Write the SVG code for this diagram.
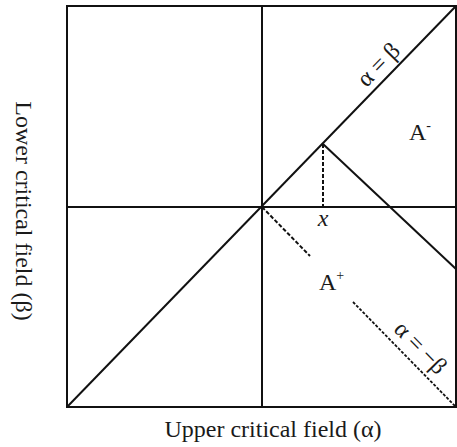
<svg xmlns="http://www.w3.org/2000/svg" width="457" height="447" viewBox="0 0 457 447">
<style>
.ln{stroke:#111;stroke-width:2;fill:none}
.dash{stroke:#111;stroke-width:2;fill:none;stroke-dasharray:4 2}
.dash2{stroke:#111;stroke-width:1.8;fill:none;stroke-dasharray:3 1.6}
text{font-family:"Liberation Serif","Times New Roman",serif;fill:#1a1a1a}
.lbl{font-size:24px}
.ax{font-size:24px}
</style>
<rect width="457" height="447" fill="#fff"/>
<g id="connectors">
<rect class="ln" x="67" y="6" width="389" height="401"/>
<line class="ln" x1="262" y1="6" x2="262" y2="407"/>
<line class="ln" x1="67" y1="207" x2="456" y2="207"/>
<line class="ln" x1="67" y1="407" x2="456" y2="6"/>
<line class="ln" x1="323" y1="144" x2="456" y2="269"/>
<line class="dash" x1="323" y1="144" x2="323" y2="207"/>
<line class="dash" x1="262" y1="207" x2="310" y2="256"/>
<line class="dash2" x1="353" y1="302" x2="455" y2="406"/>
</g>
<g id="label-alpha-eq-beta">
<text class="lbl" text-anchor="middle" transform="translate(384,70) rotate(-45.7)">α = β</text>
</g>
<g id="label-alpha-eq-minus-beta">
<text class="lbl" text-anchor="middle" transform="translate(415,353) rotate(45.7)">α = −β</text>
</g>
<g id="label-A-minus">
<text class="lbl" x="409" y="140">A<tspan font-size="14" dy="-10">-</tspan></text>
</g>
<g id="label-A-plus">
<text class="lbl" x="319" y="290">A<tspan font-size="14" dy="-10">+</tspan></text>
</g>
<g id="label-x">
<text class="lbl" x="323" y="226" text-anchor="middle" font-style="italic">x</text>
</g>
<g id="axis-x">
<text class="ax" x="273" y="437" text-anchor="middle" font-size="25">Upper critical field (α)</text>
</g>
<g id="axis-y">
<text class="ax" text-anchor="middle" transform="translate(16,211) rotate(90)">Lower critical field (β)</text>
</g>
</svg>
